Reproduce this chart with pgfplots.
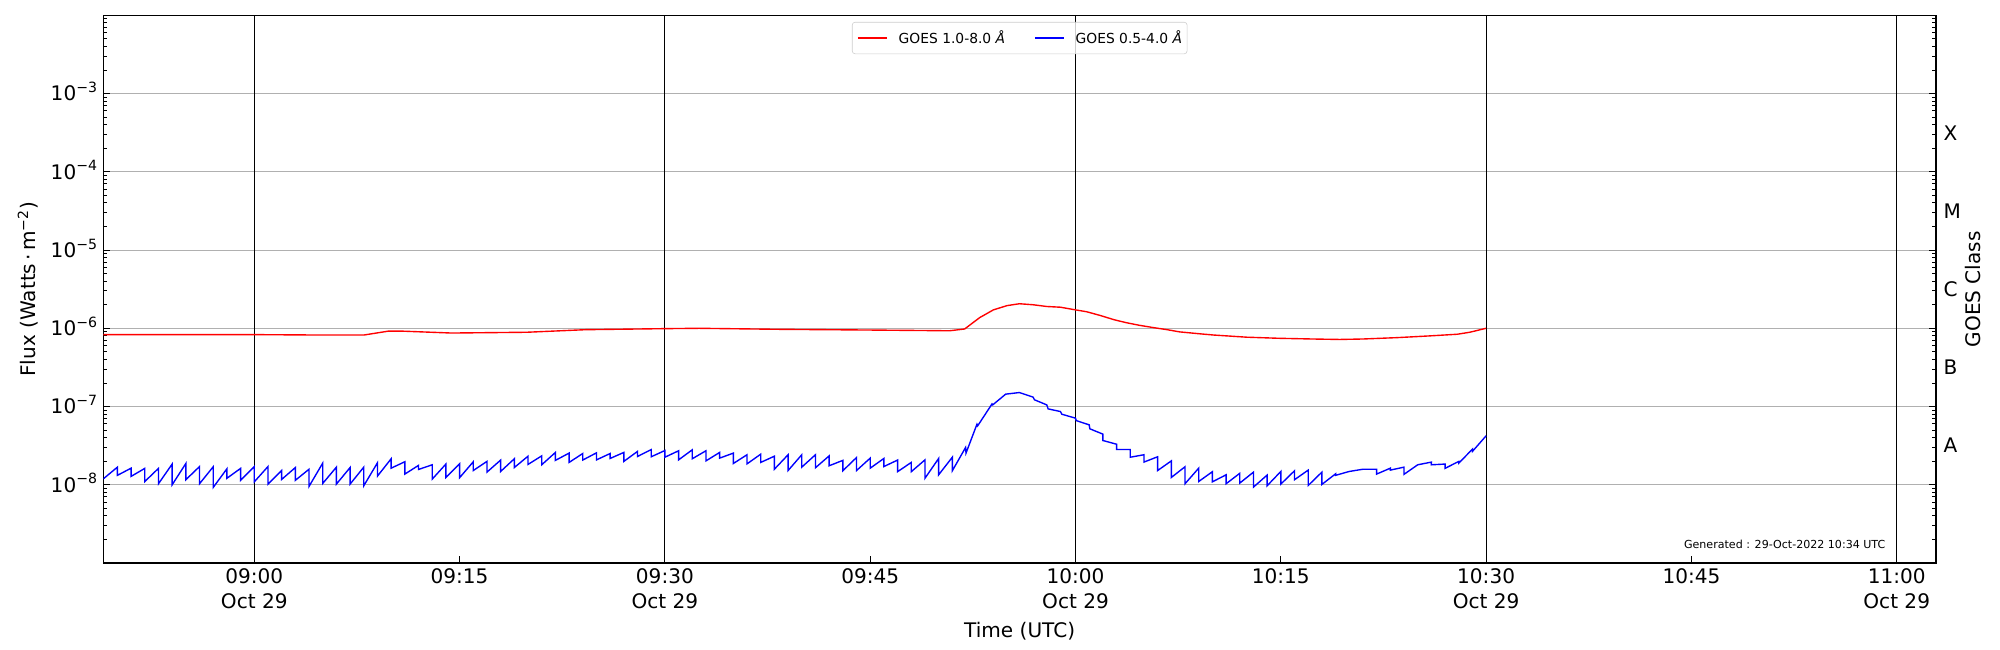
\documentclass[border=0pt]{standalone}
\usepackage{pgfplots}
\pgfplotsset{compat=1.18}
\usepackage{fontspec}
\setmainfont{DejaVu Sans}
\newcommand{\tfont}{\fontsize{14.5}{17.6}\selectfont}
\newcommand{\expo}[1]{10\raisebox{6pt}{\fontsize{10.2}{12}\selectfont −#1}}
\begin{document}
\begin{tikzpicture}
\useasboundingbox (-74.66pt,-62.87pt) rectangle (1370.74pt,406.89pt);
\begin{axis}[
  at={(0,0)}, anchor=south west,
  scale only axis, width=1324.5pt, height=395.8pt,
  xmin=-11.03, xmax=122.87,
  ymode=log, ymin=1e-9, ymax=1e-2,
  axis line style={line width=0.9pt},
  tick align=inside,
  major tick length=5pt, minor tick length=3pt,
  every tick/.style={black, line width=0.7pt},
  xtick pos=bottom, ytick pos=both, yticklabel pos=left,
  xtick={15,45,75,105},
  xticklabels={09:15,09:45,10:15,10:45},
  extra x ticks={0,30,60,90,120},
  extra x tick labels={{09:00\\Oct 29},{09:30\\Oct 29},{10:00\\Oct 29},{10:30\\Oct 29},{11:00\\Oct 29}},
  extra x tick style={grid=major, major grid style={black, line width=0.8pt}},
  xticklabel style={font=\tfont, align=center, anchor=north, inner sep=0pt, yshift=-4pt},
  ytick={1e-8,1e-7,1e-6,1e-5,1e-4,1e-3},
  yticklabels={\expo{8},\expo{7},\expo{6},\expo{5},\expo{4},\expo{3}},
  minor ytick={2e-9,3e-9,4e-9,5e-9,6e-9,7e-9,8e-9,9e-9,
    2e-8,3e-8,4e-8,5e-8,6e-8,7e-8,8e-8,9e-8,
    2e-7,3e-7,4e-7,5e-7,6e-7,7e-7,8e-7,9e-7,
    2e-6,3e-6,4e-6,5e-6,6e-6,7e-6,8e-6,9e-6,
    2e-5,3e-5,4e-5,5e-5,6e-5,7e-5,8e-5,9e-5,
    2e-4,3e-4,4e-4,5e-4,6e-4,7e-4,8e-4,9e-4,
    2e-3,3e-3,4e-3,5e-3,6e-3,7e-3,8e-3,9e-3},
  yticklabel style={font=\tfont, anchor=base east, inner sep=0pt, xshift=-4.3pt, yshift=-5.3pt},
  ymajorgrids=true,
  major grid style={color=black!31, line width=0.8pt},
  xlabel={Time (UTC)},
  xlabel style={font=\tfont, at={(axis description cs:0.5,0)}, anchor=base, yshift=-53.5pt},
  ylabel={Flux (Watts\,·\,m\textsuperscript{−2})},
  ylabel style={font=\tfont, at={(axis description cs:-0.0411,0.5)}, anchor=center},
  legend columns=2,
  legend image code/.code={\draw[#1] (0pt,0pt) -- (21pt,0pt);},
  legend style={at={(0.5,1)}, anchor=north, yshift=-4.8pt,
    draw=black!20, rounded corners=2pt, fill=white, fill opacity=0.8, text opacity=1,
    font=\fontsize{10}{12}\selectfont, inner xsep=3.6pt, inner ysep=4pt,
    nodes={inner xsep=0pt, inner ysep=2pt},
    /tikz/every odd column/.append style={column sep=8pt},
    /tikz/every even column/.append style={column sep=21pt}},
]
\addplot[red, line width=1pt] coordinates {
(-11.03,8.3e-7) (-5,8.3e-7) (0,8.3e-7) (5,8.2e-7) (8,8.2e-7) (9.8,9.2e-7)
(10.8,9.2e-7) (14.4,8.7e-7) (19.9,8.9e-7) (24.2,9.6e-7) (30,9.9e-7)
(32.5,1.0e-6) (38.5,9.7e-7) (45,9.5e-7) (50.8,9.3e-7) (51.9,9.8e-7)
(53.0,1.37e-6) (54.0,1.72e-6) (55.0,1.95e-6) (55.9,2.06e-6) (56.9,2.0e-6)
(57.9,1.9e-6) (58.9,1.86e-6) (60,1.72e-6) (60.8,1.63e-6) (61.8,1.46e-6)
(62.8,1.29e-6) (63.7,1.18e-6) (64.7,1.09e-6) (65.7,1.02e-6) (66.7,9.6e-7)
(67.6,9.0e-7) (69.1,8.5e-7) (70.1,8.2e-7) (72.5,7.7e-7) (74.9,7.45e-7)
(77.3,7.3e-7) (79.3,7.2e-7) (81,7.3e-7) (83.5,7.6e-7) (85.9,8.0e-7)
(87.9,8.4e-7) (88.8,8.9e-7) (90,1.0e-6)
};
\addlegendentry{GOES 1.0-8.0 {\itshape Å}}
\addplot[blue, line width=1pt] coordinates {
(-11.03,1.19e-8)
(-10,1.68e-8) (-10,1.32e-8)
(-9,1.63e-8) (-9,1.28e-8)
(-8,1.62e-8) (-8,1.10e-8)
(-7,1.62e-8) (-7,1.03e-8)
(-6,1.84e-8) (-6,1.00e-8)
(-5,1.87e-8) (-5,1.16e-8)
(-4,1.71e-8) (-4,1.03e-8)
(-3,1.70e-8) (-3,9.25e-9)
(-2,1.60e-8) (-2,1.21e-8)
(-1,1.62e-8) (-1,1.14e-8)
(0,1.71e-8) (0,1.09e-8)
(1,1.71e-8) (1,1.02e-8)
(2,1.52e-8) (2,1.17e-8)
(3,1.66e-8) (3,1.14e-8)
(4,1.58e-8) (4,9.53e-9)
(5,1.89e-8) (5,1.04e-8)
(6,1.68e-8) (6,1.02e-8)
(7,1.66e-8) (7,1.02e-8)
(8,1.68e-8) (8,9.71e-9)
(9,1.91e-8) (9,1.29e-8)
(10,2.15e-8) (10,1.63e-8)
(11,1.97e-8) (11,1.37e-8)
(12,1.77e-8) (12,1.57e-8)
(13,1.80e-8) (13,1.18e-8)
(14,1.84e-8) (14,1.24e-8)
(15,1.85e-8) (15,1.23e-8)
(16,1.97e-8) (16,1.52e-8)
(17,1.99e-8) (17,1.45e-8)
(18,2.07e-8) (18,1.48e-8)
(19,2.15e-8) (19,1.66e-8)
(20,2.32e-8) (20,1.82e-8)
(21,2.34e-8) (21,1.80e-8)
(22,2.59e-8) (22,2.05e-8)
(23,2.54e-8) (23,1.93e-8)
(24,2.51e-8) (24,2.07e-8)
(25,2.56e-8) (25,2.08e-8)
(26,2.51e-8) (26,2.17e-8)
(27,2.59e-8) (27,1.99e-8)
(28,2.67e-8) (28,2.30e-8)
(29,2.82e-8) (29,2.28e-8)
(30,2.74e-8) (30,2.25e-8)
(31,2.72e-8) (31,2.08e-8)
(32,2.80e-8) (32,2.15e-8)
(33,2.72e-8) (33,2.02e-8)
(34,2.59e-8) (34,2.19e-8)
(35,2.54e-8) (35,1.87e-8)
(36,2.42e-8) (36,1.85e-8)
(37,2.46e-8) (37,1.93e-8)
(38,2.32e-8) (38,1.58e-8)
(39,2.42e-8) (39,1.52e-8)
(40,2.42e-8) (40,1.68e-8)
(41,2.42e-8) (41,1.65e-8)
(42,2.34e-8) (42,1.75e-8)
(43,2.05e-8) (43,1.51e-8)
(44,2.23e-8) (44,1.52e-8)
(45,2.19e-8) (45,1.63e-8)
(46,2.17e-8) (46,1.71e-8)
(47,2.07e-8) (47,1.47e-8)
(48,1.93e-8) (48,1.47e-8)
(49,2.08e-8) (49,1.21e-8)
(50,2.17e-8) (50,1.34e-8)
(51,2.25e-8) (51,1.51e-8)
(51.97,3.00e-8) (52.0,2.54e-8)
(52.8,5.94e-8) (52.85,5.66e-8)
(53.9,1.08e-7) (53.95,1.05e-7)
(54.9,1.44e-7)
(55.9,1.51e-7)
(56.9,1.32e-7) (57.0,1.22e-7)
(57.9,1.05e-7) (58.0,9.33e-8)
(58.9,8.63e-8) (59.0,7.98e-8)
(60,7.10e-8) (60.05,6.62e-8)
(61,5.83e-8) (61.05,5.19e-8)
(62,4.44e-8) (62,3.68e-8)
(63,3.30e-8) (63,2.82e-8)
(64,2.82e-8) (64,2.25e-8)
(65,2.42e-8) (65,1.95e-8)
(66,2.28e-8) (66,1.52e-8)
(67,2.02e-8) (67,1.24e-8)
(68,1.70e-8) (68,1.03e-8)
(69,1.63e-8) (69,1.10e-8)
(70,1.47e-8) (70,1.09e-8)
(71,1.34e-8) (71,1.03e-8)
(72,1.40e-8) (72,1.05e-8)
(73,1.45e-8) (73,9.33e-9)
(74,1.33e-8) (74,9.71e-9)
(75,1.48e-8) (75,1.02e-8)
(76,1.51e-8) (76,1.16e-8)
(77,1.54e-8) (77,9.79e-9)
(78,1.45e-8) (78,1.01e-8)
(79,1.38e-8) (79,1.32e-8)
(80,1.48e-8)
(81,1.58e-8)
(82,1.58e-8) (82,1.37e-8)
(83,1.63e-8) (83,1.54e-8)
(84,1.68e-8) (84,1.36e-8)
(85,1.80e-8)
(86,1.95e-8) (86,1.80e-8)
(87,1.84e-8) (87,1.62e-8)
(88,1.99e-8) (88,1.89e-8)
(89,2.85e-8) (89,2.67e-8)
(90,4.23e-8)
};
\addlegendentry{GOES 0.5-4.0 {\itshape Å}}
\node[anchor=base east, font=\fontsize{8}{9.6}\selectfont] at (axis description cs:0.975,0.0265) {Generated : 29-Oct-2022 10:34 UTC};
\end{axis}
\begin{axis}[
  at={(0,0)}, anchor=south west,
  scale only axis, width=1324.5pt, height=395.8pt,
  xmin=-11.03, xmax=122.87, ymin=-9, ymax=-2,
  hide x axis, axis y line*=right, axis line style={draw=none},
  ytick={-7.5,-6.5,-5.5,-4.5,-3.5},
  yticklabels={A,B,C,M,X},
  major tick length=0pt, minor tick num=0,
  yticklabel style={font=\tfont, anchor=west, inner sep=0pt, xshift=5.3pt},
  ylabel={GOES Class},
  ylabel style={font=\tfont, at={(axis description cs:1.0199,0.5)}, anchor=center, rotate=0},
]
\end{axis}
\end{tikzpicture}
\end{document}
